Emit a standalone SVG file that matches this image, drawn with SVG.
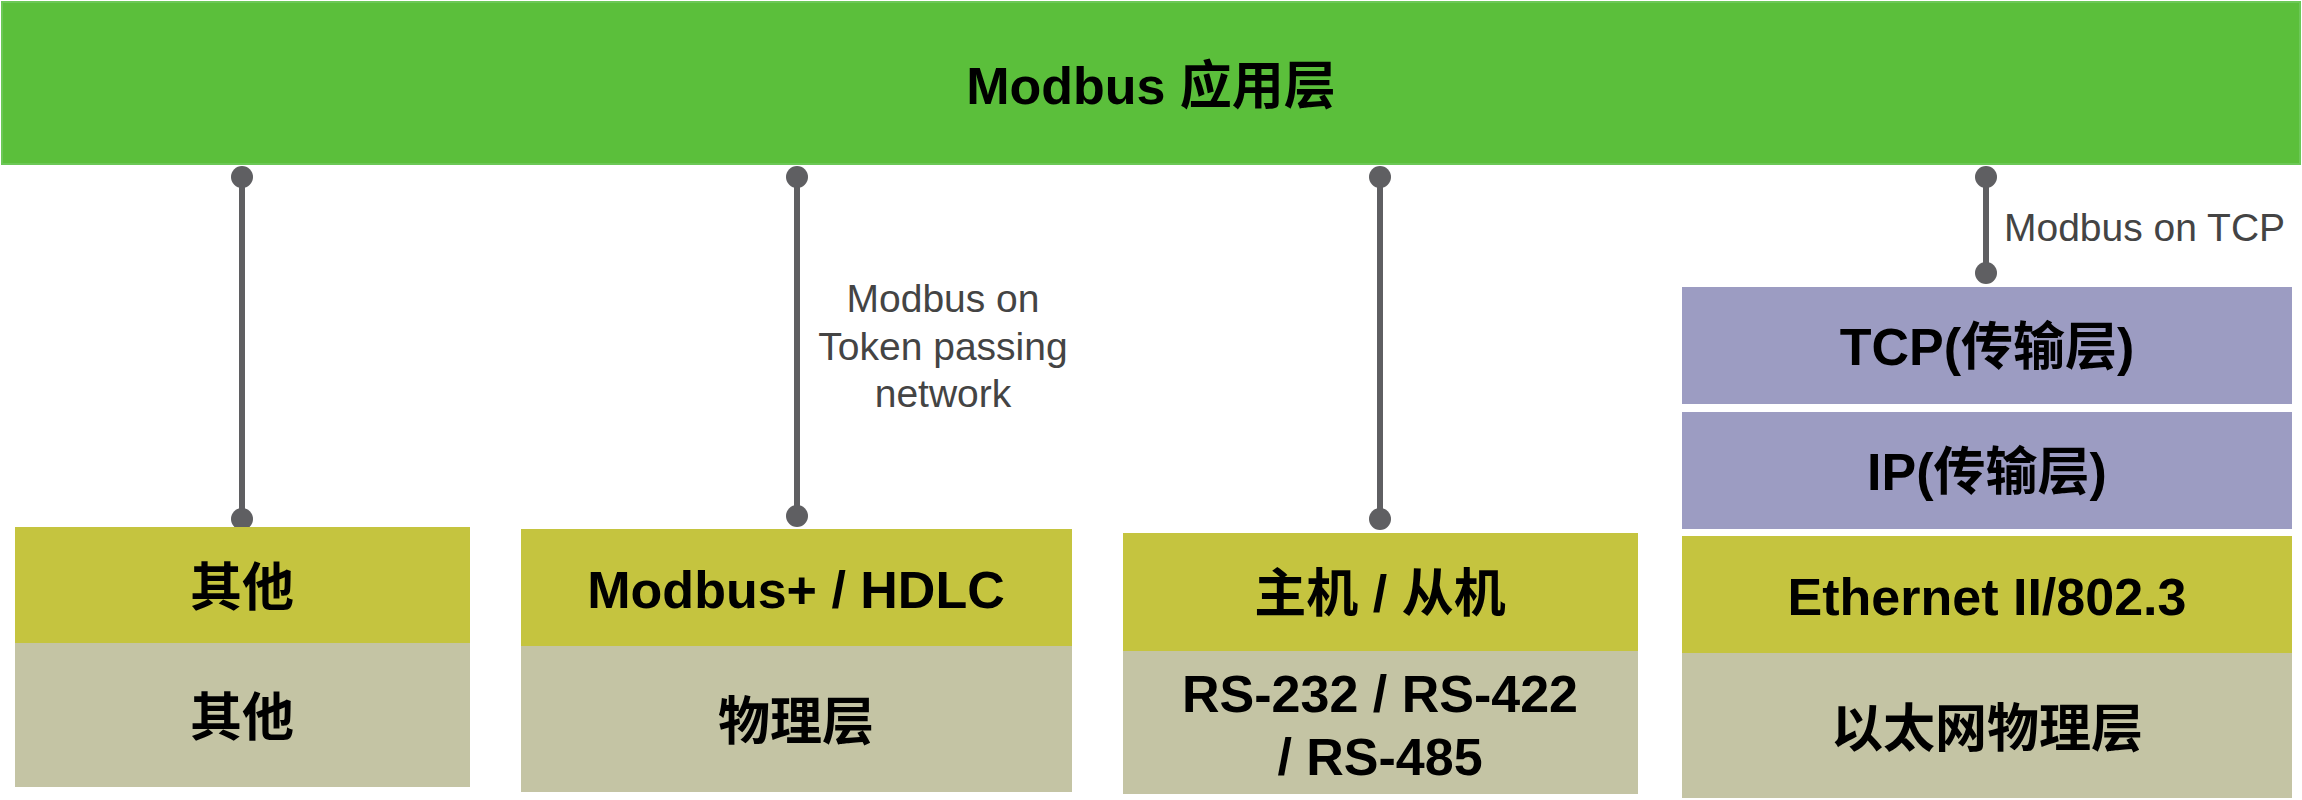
<svg xmlns="http://www.w3.org/2000/svg" width="2302" height="800" viewBox="0 0 2302 800">
<style>
.bg{fill:#ffffff}
.app{fill:#5bbf3b;stroke:#6cc857;stroke-width:2}
.dl{fill:#c5c43f}
.ph{fill:#c4c4a4}
.tp{fill:#9c9cc2}
.t{font-family:'Liberation Sans','Noto Sans CJK SC',sans-serif;font-weight:bold;font-size:52px;fill:#000;text-anchor:middle}
.lbl{font-family:'Liberation Sans','Noto Sans CJK SC',sans-serif;font-size:39px;fill:#444}
.ln{stroke:#5f5f62;stroke-width:6;fill:none}
.dot{fill:#5f5f62}
</style>
<rect class="bg" x="0" y="0" width="2302" height="800"/>
<g id="app-layer">
<rect class="app" x="2" y="2" width="2298" height="162"/>
<text class="t" x="1151" y="104">Modbus 应用层</text>
</g>
<g id="connectors">
<line class="ln" x1="242" y1="177" x2="242" y2="519"/>
<circle class="dot" cx="242" cy="177" r="11"/>
<circle class="dot" cx="242" cy="519" r="11"/>
<line class="ln" x1="797" y1="177" x2="797" y2="516"/>
<circle class="dot" cx="797" cy="177" r="11"/>
<circle class="dot" cx="797" cy="516" r="11"/>
<text class="lbl" x="943" y="312" text-anchor="middle">Modbus on</text>
<text class="lbl" x="943" y="360" text-anchor="middle">Token passing</text>
<text class="lbl" x="943" y="407" text-anchor="middle">network</text>
<line class="ln" x1="1380" y1="177" x2="1380" y2="519"/>
<circle class="dot" cx="1380" cy="177" r="11"/>
<circle class="dot" cx="1380" cy="519" r="11"/>
<line class="ln" x1="1986" y1="177" x2="1986" y2="273"/>
<circle class="dot" cx="1986" cy="177" r="11"/>
<circle class="dot" cx="1986" cy="273" r="11"/>
<text class="lbl" x="2004" y="241">Modbus on TCP</text>
</g>
<g id="stack-other">
<rect class="dl" x="15" y="527" width="455" height="116"/>
<rect class="ph" x="15" y="643" width="455" height="144"/>
<text class="t" x="242" y="606">其他</text>
<text class="t" x="242" y="736">其他</text>
</g>
<g id="stack-modbusplus">
<rect class="dl" x="521" y="529" width="551" height="117"/>
<rect class="ph" x="521" y="646" width="551" height="146"/>
<text class="t" x="796" y="608">Modbus+ / HDLC</text>
<text class="t" x="796" y="740">物理层</text>
</g>
<g id="stack-serial">
<rect class="dl" x="1123" y="533" width="515" height="118"/>
<rect class="ph" x="1123" y="651" width="515" height="143"/>
<text class="t" x="1380" y="612">主机 / 从机</text>
<text class="t" x="1380" y="712">RS-232 / RS-422</text>
<text class="t" x="1380" y="775">/ RS-485</text>
</g>
<g id="stack-tcp">
<rect class="tp" x="1682" y="287" width="610" height="117"/>
<rect class="tp" x="1682" y="412" width="610" height="117"/>
<rect class="dl" x="1682" y="536" width="610" height="117"/>
<rect class="ph" x="1682" y="653" width="610" height="145"/>
<text class="t" x="1987" y="365">TCP(传输层)</text>
<text class="t" x="1987" y="490">IP(传输层)</text>
<text class="t" x="1987" y="615">Ethernet II/802.3</text>
<text class="t" x="1987" y="747">以太网物理层</text>
</g>
</svg>
